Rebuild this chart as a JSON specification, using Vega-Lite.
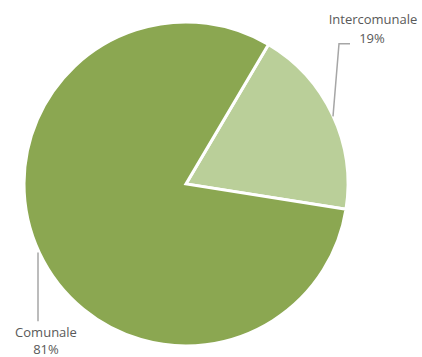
{
  "$schema": "https://vega.github.io/schema/vega-lite/v6.json",
  "width": 422,
  "height": 357,
  "autosize": {"type": "fit", "contains": "padding"},
  "padding": 0,
  "background": "white",
  "config": {"view": {"stroke": null}},
  "datasets": {
    "slices": [
      {"cat": "Intercomunale", "value": 19, "ord": 1, "cx": 0, "cy": 0},
      {"cat": "Comunale", "value": 81, "ord": 2, "cx": 0, "cy": 0}
    ],
    "leaders": [
      {"g": "Comunale", "i": 1, "px": -148, "py": -69},
      {"g": "Comunale", "i": 2, "px": -148, "py": -138},
      {"g": "Intercomunale", "i": 1, "px": 147, "py": 68},
      {"g": "Intercomunale", "i": 2, "px": 153, "py": 141},
      {"g": "Intercomunale", "i": 3, "px": 164, "py": 141}
    ],
    "labels": [
      {"t": "Intercomunale", "px": 187, "py": 165},
      {"t": "19%", "px": 186, "py": 146},
      {"t": "Comunale", "px": -140, "py": -150},
      {"t": "81%", "px": -140, "py": -167}
    ]
  },
  "layer": [
    {
      "data": {"name": "slices"},
      "mark": {"type": "arc", "outerRadius": 162, "stroke": "white", "strokeWidth": 3},
      "encoding": {
        "x": {"field": "cx", "type": "quantitative", "scale": {"domain": [-186, 236], "nice": false, "zero": false}, "axis": null},
        "y": {"field": "cy", "type": "quantitative", "scale": {"domain": [-172, 185], "nice": false, "zero": false}, "axis": null},
        "theta": {"field": "value", "type": "quantitative", "stack": true, "scale": {"range": [0.534, 6.817]}},
        "order": {"field": "ord", "type": "quantitative"},
        "color": {"field": "cat", "type": "nominal", "scale": {"domain": ["Comunale", "Intercomunale"], "range": ["#8BA751", "#BACF99"]}, "legend": null}
      }
    },
    {
      "data": {"name": "leaders"},
      "mark": {"type": "line", "color": "#A6A6A6", "strokeWidth": 1.5},
      "encoding": {
        "x": {"field": "px", "type": "quantitative"},
        "y": {"field": "py", "type": "quantitative"},
        "detail": {"field": "g"},
        "order": {"field": "i", "type": "quantitative"}
      }
    },
    {
      "data": {"name": "labels"},
      "mark": {"type": "text", "font": "Open Sans", "fontSize": 13, "color": "#595959", "align": "center", "baseline": "middle"},
      "encoding": {
        "x": {"field": "px", "type": "quantitative"},
        "y": {"field": "py", "type": "quantitative"},
        "text": {"field": "t"}
      }
    }
  ]
}
